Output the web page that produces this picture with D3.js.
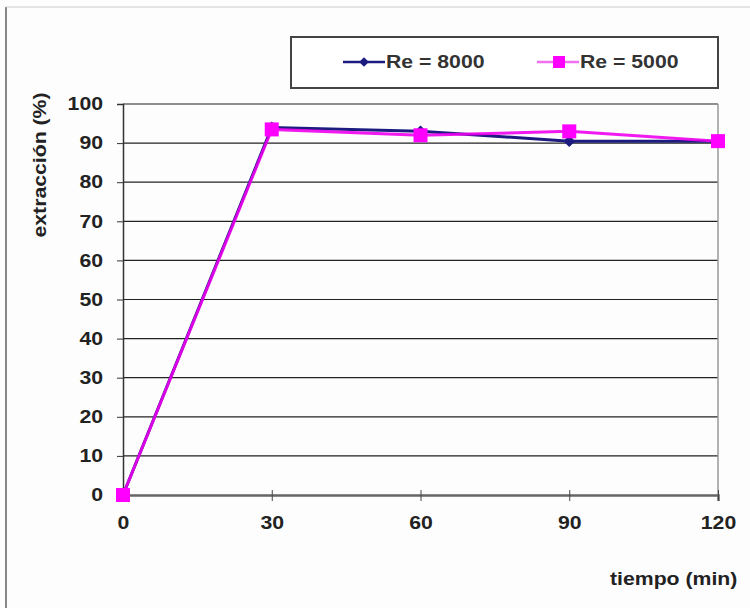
<!DOCTYPE html>
<html>
<head>
<meta charset="utf-8">
<script src="https://cdn.jsdelivr.net/npm/d3@7"></script>
<style>
    body { margin: 0; background: #fff; }
    text { font-family: "Liberation Sans", Arial, sans-serif; font-weight: bold; }
</style>
</head>
<body>
<div id="chart"></div>
<script>
// data
var tiempo = [0, 30, 60, 90, 120];
var re8000 = [0, 94, 93, 90.5, 90.5];
var re5000 = [0, 93.5, 92, 93, 90.5];
var yTicks = [0, 10, 20, 30, 40, 50, 60, 70, 80, 90, 100];
var xTicks = [0, 30, 60, 90, 120];

var graph = {
    margin: {top: 104, right: 32, bottom: 113, left: 123},
    width: 750,
    height: 608
};
var w = graph.width - graph.margin.left - graph.margin.right;
var h = graph.height - graph.margin.top - graph.margin.bottom;
var stretch = 1.18; // the source image is a bit wide

function widen(sel) {
    sel.each(function () {
        var t = d3.select(this);
        var tx = +t.attr("x") || 0;
        t.attr("transform", "translate(" + (tx * (1 - stretch)) + ",0) scale(" + stretch + ",1)");
    });
}

var svg = d3.select("#chart").append("svg")
    .attr("width", graph.width).attr("height", graph.height);

// outer frame of the original image
svg.append("rect").attr("x", 0).attr("y", 0).attr("width", 750).attr("height", 608).attr("fill", "#fdfdfd");
svg.append("line").attr("x1", 6).attr("x2", 6).attr("y1", 7).attr("y2", 608).attr("stroke", "#888").attr("stroke-width", 2);
svg.append("line").attr("x1", 6).attr("x2", 750).attr("y1", 7).attr("y2", 7).attr("stroke", "#ccc").attr("stroke-width", 1);

var g = svg.append("g").attr("transform", "translate(" + graph.margin.left + "," + graph.margin.top + ")");

var x = d3.scaleLinear().domain([0, 120]).range([0, w]);
var y = d3.scaleLinear().domain([0, 100]).range([h, 0]);

// gridlines
g.append("g").selectAll("line").data(yTicks.slice(1)).enter().append("line")
    .attr("x1", 0).attr("x2", w)
    .attr("y1", function (d) { return y(d); }).attr("y2", function (d) { return y(d); })
    .attr("stroke", "#222").attr("stroke-width", 1.2);

// right border of plot area
g.append("line").attr("x1", w).attr("x2", w).attr("y1", 0).attr("y2", h)
    .attr("stroke", "#999").attr("stroke-width", 1.5);

// y axis
var yAxis = g.append("g").attr("class", "y-axis")
    .call(d3.axisLeft(y).tickValues(yTicks).tickSize(6).tickPadding(14));
yAxis.select(".domain").attr("stroke", "#333").attr("stroke-width", 1.5);
yAxis.selectAll(".tick line").attr("stroke", "#333");
yAxis.selectAll("text").attr("font-size", 18).attr("fill", "#222")
    .attr("font-family", "Liberation Sans, Arial, sans-serif").attr("font-weight", "bold")
    .call(widen);

// x axis
var xAxis = g.append("g").attr("class", "x-axis").attr("transform", "translate(0," + h + ")")
    .call(d3.axisBottom(x).tickValues(xTicks).tickSize(6).tickPadding(15));
xAxis.select(".domain").attr("stroke", "#666").attr("stroke-width", 2.5);
xAxis.selectAll(".tick line").attr("stroke", "#444").attr("y1", -5);
xAxis.selectAll("text").attr("font-size", 18).attr("fill", "#222")
    .attr("font-family", "Liberation Sans, Arial, sans-serif").attr("font-weight", "bold")
    .call(widen);

// series
var line = d3.line()
    .x(function (d, i) { return x(tiempo[i]); })
    .y(function (d) { return y(d); });

g.append("path").datum(re8000).attr("d", line)
    .attr("fill", "none").attr("stroke", "#1c1c80").attr("stroke-width", 3);
g.selectAll(".dia").data(re8000).enter().append("path")
    .attr("class", "dia")
    .attr("transform", function (d, i) { return "translate(" + x(tiempo[i]) + "," + y(d) + ")"; })
    .attr("d", d3.symbol().type(d3.symbolDiamond2).size(90))
    .attr("fill", "#1c1c80");

g.append("path").datum(re5000).attr("d", line)
    .attr("fill", "none").attr("stroke", "#ee00ee").attr("stroke-width", 3).attr("stroke-opacity", 0.9);
g.selectAll(".sq").data(re5000).enter().append("rect")
    .attr("class", "sq")
    .attr("x", function (d, i) { return x(tiempo[i]) - 7; })
    .attr("y", function (d) { return y(d) - 7; })
    .attr("width", 14).attr("height", 14)
    .attr("fill", "#ff00ff");

// axis titles
svg.append("text").attr("transform", "translate(46,165) rotate(-90) scale(" + stretch + ",1)")
    .attr("text-anchor", "middle").attr("font-size", 18).attr("fill", "#222")
    .text("extracción (%)");
svg.append("text").attr("x", 0).attr("y", 585)
    .attr("transform", "translate(610,0) scale(" + stretch + ",1)")
    .attr("font-size", 18).attr("fill", "#222")
    .text("tiempo (min)");

// legend
var legend = svg.append("g");
legend.append("rect").attr("x", 291).attr("y", 37).attr("width", 427).attr("height", 51)
    .attr("fill", "#fff").attr("stroke", "#444").attr("stroke-width", 2);

var items = [
    {label: "Re = 8000", color: "#1c1c80", line: "#1c1c80", shape: "diamond", x: 343},
    {label: "Re = 5000", color: "#ff00ff", line: "#f070f0", shape: "square", x: 537}
];
items.forEach(function (it) {
    legend.append("line").attr("x1", it.x).attr("x2", it.x + 42).attr("y1", 62).attr("y2", 62)
        .attr("stroke", it.line).attr("stroke-width", 2.5);
    if (it.shape === "diamond") {
        legend.append("path").attr("transform", "translate(" + (it.x + 21) + ",62)")
            .attr("d", d3.symbol().type(d3.symbolDiamond2).size(60)).attr("fill", it.color);
    } else {
        legend.append("rect").attr("x", it.x + 16).attr("y", 56).attr("width", 12).attr("height", 12)
            .attr("fill", it.color);
    }
    legend.append("text").attr("x", 0).attr("y", 68)
        .attr("transform", "translate(" + (it.x + 43) + ",0) scale(" + stretch + ",1)")
        .attr("font-size", 18).attr("fill", "#333").text(it.label);
});
</script>
</body>
</html>
